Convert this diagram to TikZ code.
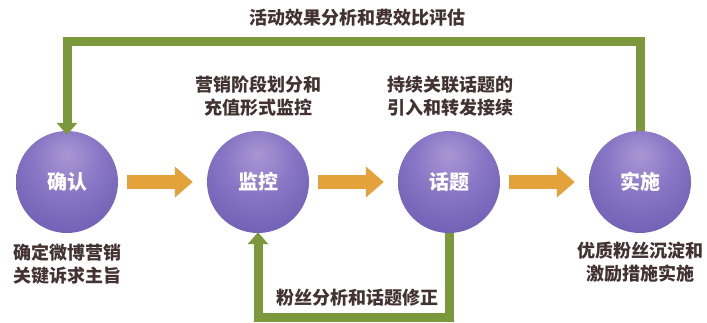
\documentclass[tikz,border=0pt]{standalone}
\usepackage{fontspec}
\setmainfont{Noto Sans CJK SC}
\usetikzlibrary{arrows.meta,positioning}
\definecolor{loopgreen}{HTML}{7C983C}
\definecolor{flowgold}{HTML}{E3A23A}
\definecolor{labelgrey}{HTML}{433232}
\pgfdeclareradialshading{purplesphere}{\pgfpoint{0bp}{14bp}}{%
  color(0bp)=(rgb,255:red,170;green,150;blue,212);
  color(18bp)=(rgb,255:red,134;green,116;blue,196);
  color(40bp)=(rgb,255:red,104;green,88;blue,174);
  color(58bp)=(rgb,255:red,80;green,64;blue,150);
  color(70bp)=(rgb,255:red,72;green,56;blue,140)}
\tikzset{
  stage/.style={circle, minimum size=102pt, inner sep=0pt, shading=purplesphere,
    text=white, font=\fontsize{20}{20}\selectfont\bfseries},
  note/.style={align=center, text=labelgrey, font=\fontsize{18}{23}\selectfont\bfseries},
  flow/.style={-{Triangle[width=30pt,length=18pt]}, line width=14pt, flowgold,
    shorten <=9pt, shorten >=14pt},
  feedback/.style={-{Triangle[width=20pt,length=12pt]}, line width=9pt, loopgreen},
}
\begin{document}
\begin{tikzpicture}[x=1pt,y=-1pt]
      \useasboundingbox (0,0) rectangle (707,323);
      \draw
        (67,182) node[stage] (queren){确认}
        (258,182) node[stage] (jiankong){监控}
        (449,182) node[stage] (huati){话题}
        (640,182) node[stage] (shishi){实施};
      \begin{scope}[flow]
        \draw (queren) to (jiankong);
        \draw (jiankong) to (huati);
        \draw (huati) to (shishi);
      \end{scope}
      \begin{scope}[feedback]
        \draw (shishi.north) -- ++(0,-89) -| ([yshift=-4pt]queren.north);
        \draw (huati.south) -- ++(0,84) -| ([yshift=1pt]jiankong.south);
      \end{scope}
      \node[note] (cost) at (357,18) {活动效果分析和费效比评估};
      \node[note] (stagesplit) at (258,96) {营销阶段划分和\\充值形式监控};
      \node[note] (topicflow) at (450,96) {持续关联话题的\\引入和转发接续};
      \node[note] (aim) at (67,264) {确定微博营销\\关键诉求主旨};
      \node[note] (fans) at (640,262) {优质粉丝沉淀和\\激励措施实施};
      \node[note] (revise) at (357,298) {粉丝分析和话题修正};
    \end{tikzpicture}
\end{document}
